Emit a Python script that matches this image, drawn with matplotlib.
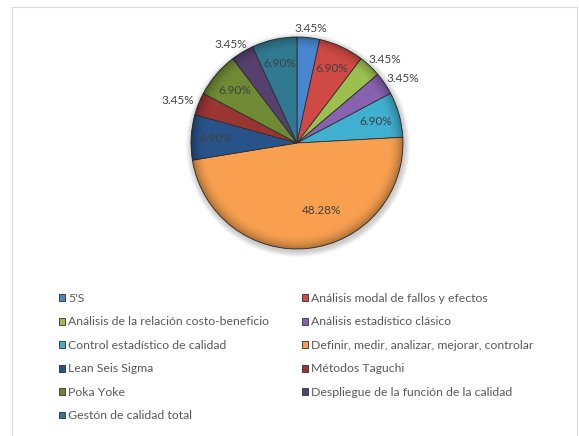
import numpy as np
import matplotlib.pyplot as plt
from matplotlib.patches import Rectangle, Circle

plt.rcParams['font.family'] = ['Lato', 'DejaVu Sans']

# herramientas de calidad (numero de estudios que las usan)
categorias = ["5'S",
              'Análisis modal de fallos y efectos',
              'Análisis de la relación costo-beneficio',
              'Análisis estadístico clásico',
              'Control estadístico de calidad',
              'Definir, medir, analizar, mejorar, controlar',
              'Lean Seis Sigma',
              'Métodos Taguchi',
              'Poka Yoke',
              'Despliegue de la función de la calidad',
              'Gestón de calidad total']
frecuencias = [1, 2, 1, 1, 2, 14, 2, 1, 2, 1, 2]
colores = ['#4a86d0', '#d04a45', '#9bc050', '#8662b0', '#3fb0d0', '#f8a050',
           '#28538a', '#9a3532', '#6e8a35', '#55406e', '#2f7a90']

W, H = 579, 436
cx, cy, R = 297, H - 143, 106

fig = plt.figure(figsize=(W / 100, H / 100), dpi=100)
ax = fig.add_axes([0, 0, 1, 1])

# sombra suave alrededor del pastel
for k in range(6):
    ax.add_patch(Circle((cx + 1, cy - 2), R + 1 + k, color='k',
                        alpha=0.035, lw=0, zorder=0))

wedges, texts, autotexts = ax.pie(
    frecuencias, colors=colores, startangle=90, counterclock=False,
    center=(cx, cy), radius=R, autopct='%.2f%%', pctdistance=0.77,
    wedgeprops=dict(edgecolor='#2e2e2e', linewidth=0.6),
    textprops=dict(fontsize=8.5, color='#404040'))

# brillo/borde tipo bisel
yy, xx = np.mgrid[-1:1:300j, -1:1:300j]
rr = np.hypot(xx, yy)
capa = np.zeros((300, 300, 4))
capa[..., 3] = np.clip((rr - 0.86) / 0.14, 0, 1) ** 2 * 0.30
img = ax.imshow(capa, extent=(cx - R, cx + R, cy - R, cy + R), zorder=2,
                origin='lower')
img.set_clip_path(Circle((cx, cy), R, transform=ax.transData))

# las rebanadas chicas llevan la etiqueta por fuera
for w, t, f in zip(wedges, autotexts, frecuencias):
    t.set_zorder(5)
    ang = np.deg2rad((w.theta1 + w.theta2) / 2)
    if f == 1:
        t.set_position((cx + (R + 22) * np.cos(ang), cy + (R + 9) * np.sin(ang)))
    elif f > 5:
        t.set_position((cx + 25, cy - 0.64 * R))

ax.set_xlim(0, W)
ax.set_ylim(0, H)
ax.set_aspect('equal')
ax.axis('off')

# marco gris claro
fig.patches.append(Rectangle((12 / W, -0.1), (577 - 12) / W, 1.1 - 7 / H,
                             transform=fig.transFigure, fill=False,
                             edgecolor='#d9d9d9', linewidth=0.8))

# leyenda en dos columnas, orden por filas
orden = [0, 2, 4, 6, 8, 10, 1, 3, 5, 7, 9]
leg = fig.legend([wedges[i] for i in orden], [categorias[i] for i in orden],
                 loc='upper left', bbox_to_anchor=(59 / W, 1 - 293 / H),
                 ncol=2, frameon=False, fontsize=8.8, handlelength=0.5,
                 handleheight=0.5, handletextpad=0.25, labelspacing=1.02,
                 columnspacing=2.7, borderpad=0, borderaxespad=0)
for txt in leg.get_texts():
    txt.set_color('#595959')

fig.savefig('out.png', dpi=100)
